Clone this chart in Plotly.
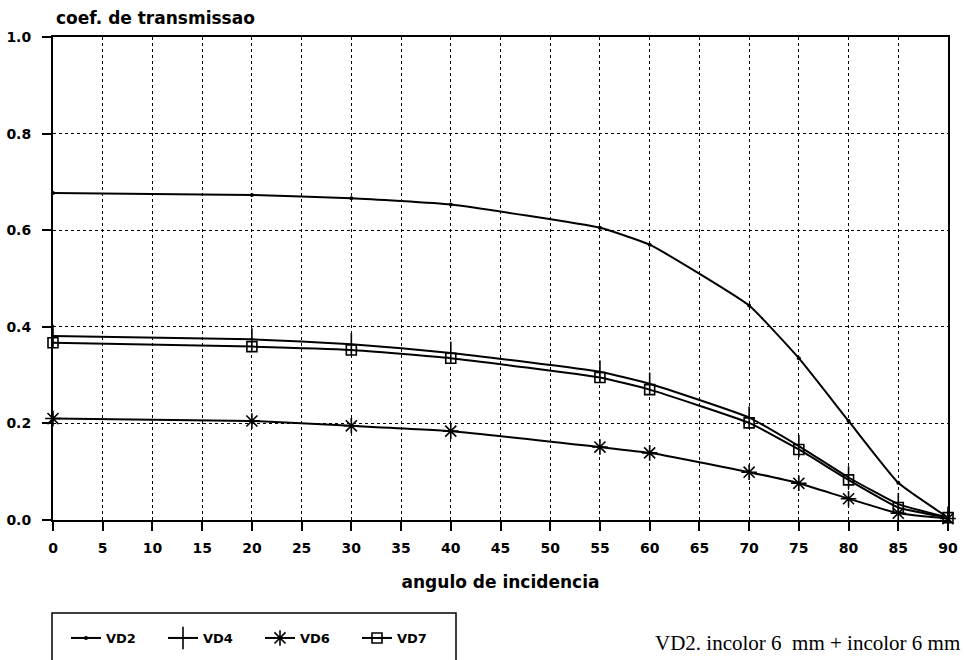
import plotly.graph_objects as go

# ---- data ----
angles = [0, 20, 30, 40, 55, 60, 70, 75, 80, 85, 90]
vd2 = [0.677, 0.673, 0.666, 0.653, 0.605, 0.570, 0.444, 0.335, 0.205, 0.077, 0.005]
vd4 = [0.381, 0.374, 0.364, 0.346, 0.307, 0.282, 0.212, 0.153, 0.088, 0.033, 0.005]
vd6 = [0.210, 0.205, 0.195, 0.184, 0.151, 0.139, 0.099, 0.076, 0.044, 0.014, 0.003]
vd7 = [0.367, 0.359, 0.352, 0.335, 0.295, 0.270, 0.201, 0.146, 0.083, 0.026, 0.005]
x_ticks = list(range(0, 95, 5))
y_ticks = [0.0, 0.2, 0.4, 0.6, 0.8, 1.0]
y_tick_labels = ["0.0", "0.2", "0.4", "0.6", "0.8", "1.0"]

FONT = "DejaVu Sans"
W, H = 964, 660
L, R, T, B = 53, 16, 37, 140
pw, ph = W - L - R, H - T - B


def px2paper_x(px):
    return (px - L) / pw


def px2paper_y(py):
    return (H - B - py) / ph


fig = go.Figure()
series = [
    ("VD2", vd2, dict(symbol="circle", size=4, color="black")),
    ("VD4", vd4, dict(symbol="line-ns", size=16, color="black", line=dict(width=1.6, color="black"))),
    ("VD6", vd6, dict(symbol="asterisk", size=13, color="black", line=dict(width=1.6, color="black"))),
    ("VD7", vd7, dict(symbol="square-open", size=10, color="black", line=dict(width=1.6, color="black"))),
]
for name, ys, mk in series:
    fig.add_trace(go.Scatter(
        x=angles, y=ys, name=name, mode="lines+markers",
        line=dict(color="black", width=2, shape="spline", smoothing=0.4),
        marker=mk, cliponaxis=False,
    ))

axis_common = dict(
    showline=True, linecolor="black", linewidth=2, mirror=True,
    showgrid=True, gridcolor="black", gridwidth=1.2, griddash="dot",
    ticks="outside", ticklen=9, tickwidth=2, tickcolor="black",
    zeroline=False, automargin=False,
    tickfont=dict(family=FONT, size=14, color="black", weight="bold"),
)
fig.update_xaxes(range=[0, 90], tickvals=x_ticks, ticktext=[str(v) for v in x_ticks],
                 ticklabelstandoff=5,
                 title=dict(text="angulo de incidencia", standoff=21,
                            font=dict(family=FONT, size=17, color="black", weight="bold")),
                 **axis_common)
fig.update_yaxes(range=[0, 1.0], tickvals=y_ticks, ticktext=y_tick_labels,
                 ticklabelstandoff=8, **axis_common)

shapes = [
    dict(type="rect", xref="paper", yref="paper",
         x0=px2paper_x(52), x1=px2paper_x(456), y0=px2paper_y(613), y1=px2paper_y(675),
         line=dict(color="black", width=1.5), fillcolor="rgba(0,0,0,0)"),
]

annotations = [
    dict(text="coef. de transmissao", xref="paper", yref="paper",
         x=px2paper_x(54), y=px2paper_y(18), xanchor="left", yanchor="middle",
         showarrow=False, font=dict(family=FONT, size=17, color="black", weight="bold")),
    dict(text="VD2. incolor 6  mm + incolor 6 mm", xref="paper", yref="paper",
         x=px2paper_x(962), y=px2paper_y(643), xanchor="right", yanchor="middle",
         showarrow=False, font=dict(family="Liberation Serif", size=21, color="black")),
]

fig.update_layout(
    width=W, height=H,
    margin=dict(l=L, r=R, t=T, b=B, autoexpand=False),
    plot_bgcolor="white", paper_bgcolor="white",
    showlegend=True,
    legend=dict(orientation="h", xref="paper", yref="paper",
                x=px2paper_x(66), y=px2paper_y(638), xanchor="left", yanchor="middle",
                entrywidth=52, entrywidthmode="pixels",
                font=dict(family=FONT, size=13, color="black", weight="bold"),
                bgcolor="rgba(0,0,0,0)", borderwidth=0),
    shapes=shapes,
    annotations=annotations,
)

fig.write_html("out.html", config={"displayModeBar": False},
               post_script="document.body.style.margin='0';document.body.style.overflow='hidden';")
